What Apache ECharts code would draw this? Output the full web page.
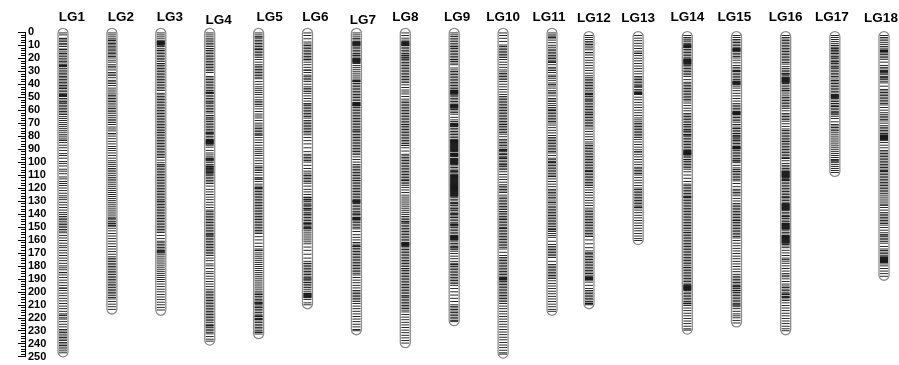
<!DOCTYPE html>
<html>
<head>
<meta charset="utf-8">
<script src="https://cdn.jsdelivr.net/npm/echarts@6/dist/echarts.min.js"></script>
<style>html,body{margin:0;padding:0;background:#fff}#chart{width:899px;height:365px}</style>
</head>
<body>
<div id="chart"></div>
<script>
const lgNames = ['LG1','LG2','LG3','LG4','LG5','LG6','LG7','LG8','LG9','LG10','LG11','LG12','LG13','LG14','LG15','LG16','LG17','LG18'];
const lgStart = [0,0,0,0,0,0,0,0,0,0,0,2.5,2.5,2.5,2.5,2.5,2.5,2.5];
const lgEnd = [247,214,215,238,233,210,230,240,223,248,215,210,160.5,229.5,224,230,108,188];
const yTicks = {min:0, max:250, step:10};

const m1 = [0.5,2,4.6,5,6,7.2,8.5,9.6,11,12.9,13.2,14.5,16,16.3,17.5,18.8,20,21.3,22.4,23.6,25,25.4,25.8,26.2,26.6,28,29.2,30.5,31.6,32.8,34,35.1,36.3,37.5,38.6,39.8,41,42.1,43,43.3,44.6,45.8,47,48,48.4,48.8,49.2,49.6,51,52.2,53.5,53.8,55,56.2,57.4,58.6,59.8,61,62.2,63.4,65,66.5,68,69.6,71,72.5,74,75.5,77,78.6,80,81.5,83,83.3,85,87,89,91,93.5,95,97,99.5,101,103,105.5,107,109,111.5,113,115,116.5,118,120,122,124,126,127.5,129,131,133,135,137,139,140.5,142,143.2,144.4,145.6,147,148.2,149.4,150.6,152,153.2,154.5,156.5,158.5,160.5,162.5,164.5,166,168,170,172,174,176,178,180,181.5,183,185,185.3,187,189,191,193,195,197,197.3,199,201,203,205,207,209,211,213,215,217,218,218.4,220,221,223,225,227,229,230.2,231.4,232.6,234,235.2,236.4,237.6,239,240.2,241.4,242.6,244,245.5,247];
const m2 = [0.5,2,3.5,5,6,6.3,7.5,8.6,9.7,10.8,12,13,14.2,15.3,16.4,17.5,18.6,19.8,21.5,23,25,26.2,27.4,29,31,32.2,33.4,35,37,38.2,39.4,41,43,44.5,46,47.5,48.6,49.8,51,52.2,53.4,54.6,56,57.5,58.7,60,61.2,62.4,64,65.5,67,68.2,69.5,71,73,74.5,76,78,78.3,80,82,84,86,88,89.5,91,93,95,97,99,100.5,102,103.5,105,106.2,107.5,109,110.5,112,113.2,114.5,116,117.5,119,120.5,122,123.5,125,126.5,128,129.5,131,132.5,134,135.5,137,138.5,140,141.5,143,143.3,144.5,145.7,147,147.4,148.5,149,149.4,151,153,155,157,159,161,163,165,167,169,171,173,174.2,175.4,176.6,178,179.2,180.4,181.6,183,184.2,185.4,186.6,188,189.2,190.4,191.6,193,194.2,195.4,196.6,198,199.2,200.4,201.6,203,204.3,205.5,207.5,209.5,211.5,213.5];
const m3 = [0.5,2,3.5,5,6.5,7,7.4,7.8,8.2,8.6,9,9.4,10,11,12.3,13.7,14,15.2,16.4,17.6,18.8,20,21.2,22.4,24,24.3,25.5,26.7,27.9,29.1,30.3,31.5,32.7,33.9,35.1,36.3,37.5,38.7,40,41.2,42.4,43.6,44.8,47,48.2,49.4,50.6,51.8,53,54.2,55.4,56.6,57.8,59,60.2,61.4,62.6,63.8,65,66.2,67.4,68.6,69.8,71,72.2,73.4,74.6,75.8,77,77.3,78.5,79.7,80.9,82.1,83.3,84.5,85.7,86.9,88.1,89.3,90.5,91.7,92.9,94.1,95.3,96.5,98.5,100.5,102,102.3,103.5,104.7,105.9,107.1,108.3,109.5,110.7,111.9,113.1,114.3,115.5,116.7,117.9,119.1,120.3,121.5,122.7,123.9,125.1,126.3,127.5,128.7,130,130.3,131.5,132.7,133.9,135.1,136.3,137.5,138.7,139.9,141.1,142.3,143.5,144.7,145.9,147.1,148.3,149.5,150.7,151.9,153.1,154.3,156.5,159,161,162.2,163.4,164.6,165.8,167,168,168.4,168.8,169.5,170,171,172.5,174,175.5,177,178.5,180,181.5,183,184.5,186,187.5,189,190.5,192,194,196,198,200,202,204,206,208,210,212,214];
const m4 = [0.5,2,3.5,5,6,7.3,8.5,9.7,11,12.4,12.7,14,15.2,16.4,17.6,18.8,20,21.2,22.4,23.6,24.8,26,27.2,28.4,29.6,31,34,35.2,36.4,37.6,38.8,40,41.2,42.4,43.6,44.8,46,46.4,46.8,47.2,48.5,49.7,51,52.2,53.5,53.8,55,56.2,57.4,58.6,59.8,61,62.2,64,64.3,65.5,66.7,67.5,68.7,70,71.2,72.4,73.6,74.8,76,77,77.4,77.8,78.2,79,80.2,81.4,82.6,83,83.4,83.8,84.2,84.6,85,85.4,85.8,86.2,87,88.5,91,93,94.5,96,97,97.4,97.8,98.2,98.6,99.2,100.5,102,103,103.4,103.8,104.4,105,105.6,106.2,106.8,107.4,108,108.6,109.4,110.5,111.7,112.9,114.1,115.3,116.5,118.5,121,123,125,127,129,131,133,135,137,138.2,139.4,140.6,141.8,143,144.2,145.4,146.6,147.8,149,150.2,151.4,152.6,153.8,155,156,156.4,157.5,158.7,159.9,161.1,162.3,163.5,164.7,165.9,167.1,168.3,169.5,170.7,172,174,176,178.5,180,182,184.5,186,188,190,192,194,196,198,199.5,200.7,201.9,203.1,204.3,205.5,206.7,207.9,209.1,210.3,211.5,212.7,213.9,215.1,216.3,217.5,218.7,219.9,221.1,222.3,223.5,225,226,226.4,227.6,228.8,230,231.2,232.4,234.5,236.5,238];
const m5 = [0.5,2,3.4,3.7,5,6.2,7.4,8.6,9.8,11,12.2,13,13.3,14.5,15.7,16.9,18.1,19.3,21,23,25,26.2,27.4,28.6,29.8,31,32.2,33.4,34.6,35.8,38,40,42,43.5,45,46.5,48,50,52,53.2,54.4,55.6,57,59,61,63,64.5,66,68,70,71.5,73,74.2,75.4,76.6,77.8,79,79.3,81,83,85,87,89,90.5,92,93.5,95,97,99,101,103,104.2,105.4,106.6,108,110,112,113,113.3,115,117,118.5,119.7,120,120.3,121.5,122.7,123.9,125.1,126.3,127.5,128.7,129.9,131.1,132.3,133.5,134.7,135.9,137.1,138.3,139.5,140.7,141.9,143.1,144.3,145.5,146.7,147.9,149.1,150.3,151.5,152.7,153.9,155.1,157.5,160,162.5,165,167,168,168.3,170,171.5,173,174.5,176,177.5,179,180.5,182,183.5,185,186.5,188,189.5,191,192.5,194,195.5,197,198.5,200,201,202,202.3,203.5,204.7,206,207,208,208.4,208.8,209.2,210,211,212,212.3,213.5,214.7,216,217.2,218.4,219,219.3,220.5,221,221.3,222.5,223.7,225,226.2,227.4,228.6,230,231,231.3,232.5];
const m6 = [0.5,2.5,5,7.5,9,10.2,11.4,12.6,13.8,15,16.2,17.4,18.6,19.8,21,21.3,23,25,27,29,29.3,31,33,34.2,35.4,36.6,38,40,42,43.2,44.4,45.6,47,49,51,53,55,55.3,56.5,57.7,58.9,60.1,61.3,62.5,63.7,64.9,66.1,68,69.2,70.4,71.6,72.8,74,75.2,76.4,77.6,79,81,83.5,86,89,92,94,95.2,96.4,97.6,98.8,100,102.5,105,107,108.5,110,110.3,111.5,112.7,113.9,115.1,116.3,118.5,121,123,125,127,127.3,128.5,129,129.3,130.5,131.7,133,133.3,134.5,135.7,136,136.3,137.5,138.7,140,140.3,141.5,142.7,143.9,145.1,146.3,147,147.4,147.8,148.5,149.5,150.5,151,151.4,152.5,154,155.5,157,158.5,160,161.5,163,165.5,168,171,174,176.5,178,178.3,179.5,180.7,181.9,183.1,184.3,185.5,186.7,187.9,189.1,190,190.3,191.5,192.7,193,194.2,195.4,196.6,198,199.5,201,201.4,201.8,202.2,202.6,203,203.4,203.8,204.2,204.6,206,208.5,210];
const m7 = [0.5,2,3.5,4.7,5.9,7.2,7.6,8,8.4,8.8,9.2,9.6,10,10.5,11.5,12.7,13.9,15.1,16.3,17.5,17.8,19,20,20.4,20.8,21.2,21.6,22,22.4,22.8,23.2,24,25.5,27,28.5,30,31.5,33,34.5,36,37,37.4,37.8,38.2,39.5,40.7,41.9,43.1,44.3,45.5,46.7,47.9,49.1,50.3,51.5,52.7,54,54.4,54.8,55.2,55.6,56,56.4,56.8,58,59.2,60.4,61.6,62.8,64,65.2,66.4,67.6,68.8,70,71.2,72.4,73.6,74.8,76,76.3,77.5,78.7,79.9,81.1,82.3,83.5,84.7,85.9,87.1,88.3,89.5,90.7,91.9,93.1,94.3,96,98,100,102,103.2,104.4,105.6,106.8,108,109.2,110.4,111.6,112.8,114,114.3,115.5,116.7,117.9,119.1,120.3,121.5,122.7,123.9,125.1,126.3,127.5,128.7,129.5,129.9,130.3,130.7,131.1,132,133.2,134.4,135.6,136.8,138,139.2,140,140.3,141.5,142.7,143,143.4,143.8,144.2,144.6,145.5,146.7,147.9,149.1,150.3,151.5,153.5,156,158,160,162,163.2,164.4,165,165.3,166.5,167.7,168.9,170.1,171.3,172.5,173.7,174.9,176.1,177.3,178.5,179.7,180.9,182.1,183.3,184.5,185.7,187,189,191,193,195,197,199,200.2,201.4,202.6,203.8,205,206.2,207.4,209,211,213,215,217,219,221,223,225,227,229,230];
const m8 = [0.5,2.5,4.5,6,7.2,7.6,8,8.4,8.8,9.2,9.6,10,10.3,11.5,12.7,13.9,15.1,16.3,17.5,17.8,19,19.3,20.5,20.8,22,23.2,24.4,25.6,26.8,28,29.2,30.4,31.6,32.8,34,35.2,36.4,37.6,38.8,40.5,42.5,44.5,46,47.5,49.5,51.5,53,54.2,55.4,56.6,57.8,59,60.2,61.4,62.6,63.8,65,66.2,67.4,68.6,69.8,71,71.3,72.5,73.7,74.9,76.1,77.3,78.5,79.7,80.9,82.1,83.3,84.5,85.7,87,87.3,89,91.5,94,95.2,96.4,97.6,98.8,100,101.2,102.4,103.6,104.8,106,107.2,108.4,109.6,110.8,112,113.2,114,114.3,115.5,116.7,117.9,119.5,121.5,123.5,125.5,127,128.5,130,131.5,133,134.5,136,137.5,139,140.5,142,143.2,144.4,145.6,146,146.3,147.5,148.7,149.9,151.1,152.3,153.5,154.7,155.9,157.1,158.3,159.5,160.7,162,162.4,162.8,163.2,163.6,164,164.4,165,166.2,167.4,168.6,169.8,171,172.2,173.4,174.6,175.8,177,178.2,179.4,180.6,182,182.3,183.5,184.7,185.9,187.1,188.3,189.5,190.7,191.9,193.1,194.3,195.5,196.7,197.9,199.1,200.3,201.5,203,203.3,204.5,205.7,206.9,208.1,209.3,210.5,211.7,212.9,214.1,215.5,217.5,219.5,221.5,223.5,225.5,227.5,229.5,231.5,233.5,235.5,237.5,239.5];
const m9 = [0.5,2,3.3,4.6,5.9,7.2,8.5,9.8,11,11.3,12.5,13.7,14.9,16.1,17.3,18.5,19.7,21,21.3,22.5,23.7,25,27.5,29,30.2,31.4,32.6,33.8,35,36.2,37.4,38.6,39.8,41,42.2,43.4,44.5,44.9,45.3,45.7,46.1,46.5,46.9,47.3,47.7,48.5,49.7,50.9,52.1,53.3,54.5,55.7,56.1,56.5,56.9,57.3,57.7,58.1,58.5,59.5,60.7,61.9,63.1,65.5,67.5,68.7,70,70.4,70.8,71.2,71.6,72,72.4,72.8,74,75.2,76.4,77.6,78.8,80,81.2,82.4,83,83.4,83.8,84.2,84.6,85,85.4,85.8,86.2,86.6,87,87.4,87.8,88.2,88.6,89,89.4,89.8,90.2,90.6,91,91.4,91.8,93,93.4,93.8,94.2,94.6,95,95.4,95.8,97,97.4,97.8,98.2,98.6,99,99.4,99.8,100.2,100.6,101,101.4,101.8,103,104.2,105.4,106.6,107.2,107.6,108.4,109.4,110,110.4,110.8,111.2,111.6,112,112.4,112.8,113.2,113.6,114,114.4,114.8,115.2,115.6,116,116.4,116.8,117.2,117.6,118,118.4,118.8,119.2,119.6,120,120.4,120.8,121.2,121.6,122,122.4,122.8,123.2,123.6,124,124.4,124.8,125.2,125.6,126,126.4,127.5,128.7,129.9,131.1,132,132.3,133.5,134.7,135.9,136.2,137.4,138.6,139.8,140,140.3,141.5,142.5,142.8,144,145.2,146.4,147.6,148,148.3,149,149.3,150.5,151.7,152.9,154.1,155.3,156.5,157,157.4,157.8,158.2,158.6,159,159.4,159.8,160.2,161.5,162.7,163.9,165.1,166,166.3,167.5,168.7,170.5,172.5,174.5,176.5,178,179,179.3,180.5,181.7,182.9,184.1,185.3,186.5,187.7,188.9,190.1,191.3,192.5,193.7,195,197.5,200,202.5,205,207.5,210,211.2,212.4,213.6,214.8,216,217.2,218.4,219.6,220.8,222,223];
const m10 = [0.5,2.5,4.6,7,9.8,11,12.2,13.4,14.6,15.8,17,18.2,19.4,21,23,25,27,29,30.5,31.7,32.9,34.1,35.3,36.5,38,40,42,44,46,48,49.5,50.7,51.9,53.1,54.3,55.5,56.7,57.9,59.1,60.3,61.5,62.7,63.9,65.1,66.3,67.5,68.7,69.9,71,71.3,72.5,73.7,74.9,76.1,77.3,78.5,80.5,82.5,83.7,84.9,86.1,87.3,88.5,90,90.4,90.8,91.2,92,93.2,94,94.3,95.5,96.7,97,97.3,98.5,99.7,100.9,102,102.3,103.5,104.7,105.9,107.5,109.5,111.5,113.5,115.5,117.5,118.7,119.9,121.1,122.3,123.5,125.5,127,128.2,129.4,130.6,131.8,133,134.2,135.4,136.6,138,138.3,139.5,140.7,141.9,143.1,144,144.3,145.5,146.7,147.9,149.1,150.3,151,151.3,152.5,153.7,154.9,156.1,157.3,158.5,159.7,160.9,162.1,163.3,164.5,165.7,167,169.5,172,173.5,174.7,175.9,177.1,178.3,179.5,180.7,181.9,183.1,184.3,185.5,186.7,187.9,189,189.4,189.8,190.2,190.6,191,192,193.2,194.4,195.6,196.8,198,199.2,200.4,201.6,202.8,204,205.2,206.4,207.6,209,211,213,215,217,219,221,223,225,227,229,231,233,235,237,239,241,243,245,247,248];
const m11 = [0.5,2,3,4.1,4.4,6,8,10,11.5,13,14.2,15.4,16.6,17.8,19,20,20.3,21.5,22.7,23,23.3,25,27,28.2,29.4,31,33,34.2,35.4,37,39,40.2,41.4,43,45,46.2,47.4,49,51,52.2,53.4,55,56.5,58,59.2,60,60.3,61.5,62.7,63.9,65.1,66.3,67.5,68.7,69.9,71.5,73.5,75.5,77.5,79.5,81,82.2,83.4,84.6,85.8,87,88.2,89.4,90.6,91.8,93,95,97,98.2,99.4,100,100.3,101.5,102.7,103.9,105.1,106.3,107.5,108.7,110,111,111.3,113,115,117,119,121,122.2,123.4,124.6,126,127.2,128.4,130,131.2,132.4,134,135.2,136.4,137.6,138.8,140,141.2,142.4,143.6,144.8,146,147.2,148.4,149.6,151,152,152.3,153.5,155,156.5,158,161,163.5,165,166.2,167.4,168.6,169.8,171,172.2,173.5,176.5,179,180.2,181.4,182.6,183.8,185,186.2,187.4,188.6,189.8,191.5,193.5,195.5,197.5,199.5,201.5,203.5,205.5,207.5,209.5,211.5,213.5,215];
const m12 = [2.5,4,5.5,7,8.2,9.4,10.6,12,13.5,15.5,15.8,17.5,19.5,21.5,23.5,25.5,27.5,29.5,31.5,33.5,35,36.2,37.4,38.6,39.8,41,42.2,43.4,44.6,46,47.2,48,48.3,49.5,50.7,52,52.3,53.5,54.7,55.9,57.1,58.3,59.5,60.7,61.9,63,63.3,64.5,65.7,66.9,68.1,69.3,70.5,71.7,72.9,74.5,76.5,78.5,80.5,82.5,84.5,86,87.2,88.4,89.6,90.8,92,93.2,94.4,95.6,96.8,98,99.2,100.4,101.6,102.8,104,105.2,106.4,107,107.3,108.5,109.7,110.9,112.1,113.3,114.5,115.7,116.9,118.1,119.5,121.5,123.5,125.5,127.5,129.5,131.5,133.5,135.5,137,138.2,139.4,140.6,141.8,143,144.2,145.4,146.6,147.8,149,150.2,151.4,152.6,153.8,155,156.2,157.4,160,163,166,168.5,170,170.3,171.5,172.7,173.9,175.1,176.3,177.5,178.7,179.9,181.1,182.3,183.5,184.7,185.9,187.1,188.3,189,189.4,189.8,190.2,190.6,191,192.5,195,197.5,199,200.2,201.4,202.6,203.8,205,206.2,207.4,208.6,209,209.3,210];
const m13 = [2.5,4.5,6.5,8.5,10.5,12.5,14.5,16,16.3,18,20,22,24,26,28,30,32,34,35.2,36.4,37.6,38.8,40,41.2,42,42.3,44,45.2,46,46.4,46.8,47.2,47.6,48,50,52,54,56,58,60,62,64,66,67.5,69,70.2,71.4,72.6,73.8,75,76.2,77.4,78.6,79.8,81,82.5,84.5,86.5,88.5,90.5,92,92.3,94,96,98,100,102,104,105.2,106.4,107.6,108.8,110,112,114,116,118,120,121.2,122.4,123.6,124.8,126,127.2,128.4,129.6,130.8,132,133.2,134.5,135,135.3,137,139,141,143,145,147,149,151,153,155,157,159,160.5];
const m14 = [2.5,4,5.2,6,7.3,8.5,9.5,10,10.4,10.8,11.2,11.6,12,13.2,14.4,15.6,16.8,18,19.2,20.4,21,21.4,21.8,22.2,22.6,23,23.4,23.8,24.2,24.6,25.5,26.7,27.9,29.1,30.3,31.5,32.7,34,36.5,38.5,39.7,40.9,42.1,43.3,44.5,45.7,46.9,48.1,49.3,50.5,51.7,52.9,54.5,56.5,58.5,60.5,62.5,63.7,64.9,66.1,67.3,68.5,69.7,71,71.3,72.5,73.7,74.9,76,76.3,77.5,78.7,79,79.3,80.5,81.7,82.9,84.1,85.3,86.5,87.7,88.9,90.1,91,91.4,91.8,92.2,92.6,93,93.4,93.8,94.2,94.6,95.5,96.7,98,98.3,99.5,100.7,101.9,103.1,104.3,105.5,107.5,110,112.5,115,117,118.2,119.4,120.6,121.8,123,124.2,125.4,126.6,127,127.3,128.5,129.7,130.9,132.1,133.3,134.5,135.7,136.9,138.1,139.3,140.5,141.7,142.9,144.1,145.3,146.5,147.7,148.9,150.1,151.3,152.5,154,154.3,155.5,156.7,157.9,159.1,160.3,161.5,162.7,163.9,165.1,166.3,167.5,168.7,169.9,171.1,172.3,173.5,174.7,175.9,177.1,178.3,179.5,181,181.3,182.5,183.7,184.9,186.1,187.3,188.5,189.7,190.9,192.1,193.3,194.5,195,195.4,195.8,196.2,196.6,197,197.4,197.8,198.2,199,200.2,201.4,202.6,203.8,205,206.2,207.4,208.6,209,209.3,210.5,212.5,214.5,216.5,218.5,220.5,222.5,224.5,226.5,228.5,229.5];
const m15 = [2.5,4,5.5,6.7,7.9,9.1,10.3,11.5,12.4,12.8,13.2,13.6,14,14.4,15,16.2,17.4,18.6,19.8,21.5,23.5,25.5,27,28.2,29.4,30,30.3,31.5,32.7,33.9,35.1,36.3,37.5,38,38.4,38.8,39.2,39.6,40,40.4,41.5,43,45,47,49,51,53,55,56.2,57.4,58.6,59.8,61,61.4,61.8,62.2,62.6,63,63.4,64.5,65.7,66.9,68.1,69.3,71,71.3,73,74,74.3,75.5,76.7,78,78.3,79.5,80.5,80.8,82,83,83.3,84.5,85.7,86.9,88,88.4,88.8,89.2,89.6,90,91.2,92.4,93.6,94.8,96,97.2,98.4,99,99.3,100.5,102.5,104.5,105.7,107,107.3,108.5,109.7,110.9,112.1,113.3,114.5,116.5,119,121,122.2,123.4,124.6,126,128,130,132,133.2,134.4,135.6,136.8,138,139.2,140.4,141.6,142.8,144,145,145.3,146.5,147.7,148.9,150.1,151.3,152.5,153.7,154.9,156.1,157.3,158.5,160.5,162.5,164.5,166.5,168.5,170.5,172.5,174.5,176.5,178.5,180.5,182.5,184.5,186.5,188,189.2,190.4,191.6,192.8,194,195.2,196,196.3,197.5,198.7,199,199.3,200.5,201.7,202.9,204.1,205.3,206.5,207.7,208.9,210,210.3,211.5,213,215,217,218.5,220,222,224];
const m16 = [2.5,4,5.2,6.4,7.6,8.8,10,11.2,12.4,13.6,14.8,16,17.2,18.4,19.6,20.8,22,23.2,24.5,26.5,28,29.2,30.4,31.6,32,32.3,33.5,34.5,35,35.4,35.8,36.2,36.6,37,37.4,37.8,38.2,38.6,39.5,40.7,42,43.2,44.5,44.8,46,47.5,49,50.2,51.4,52.6,53.8,55,56.2,57.4,58.6,60.5,62.5,63.7,64.9,66.1,67.3,68.5,70.5,72.5,74.5,75.7,76.9,78.1,79.3,80.5,81.7,82.9,84,84.3,85.5,86.7,87.9,89.1,90.3,91.5,92.7,93.9,95.1,96.3,97,97.3,99,101,102.5,103.7,104.9,106.1,107,107.4,107.8,108.2,108.6,109,109.4,109.8,110.2,110.6,111,111.4,111.8,112.5,113.5,114,114.3,115.5,116.7,117.9,119.1,120.3,121.5,122.7,123.9,125.1,126.3,127,127.4,128.5,129.7,130.9,132,132.4,132.8,133.2,133.6,134,134.4,134.8,135.2,135.6,136,136.4,136.8,137.5,138.7,139.9,141.1,142,142.3,143.5,144.7,145.9,147,147.4,147.8,148.2,148.6,149,149.4,149.8,150.2,150.6,151,151.4,151.8,153,154.2,155.4,156.6,157,157.4,157.8,158.2,158.6,159,159.4,159.8,160.2,160.6,161,161.4,161.8,162.2,162.6,163.5,164.7,166,168,170,172,174,175.2,176.4,178,180,182,184,186,187.2,188.4,190,192,194,195.5,196.7,197.9,199.1,200.3,201.5,202,202.3,203.5,204,204.3,205.5,206.7,208.5,210.5,212.5,214.5,216.5,218.5,220.5,222.5,224.5,226.5,228.5,230];
const m17 = [2.5,4,5.5,7,8.5,10,10.3,11.5,12.5,13.6,13.9,15,16,16.3,17.5,18.8,19.1,20.3,21.5,22.6,22.9,24,25.2,26.5,26.8,28,29.2,30.4,31.6,32.8,34,35.2,36.8,37.1,38.3,39.5,40.7,41.9,43.1,44.3,45.5,46.7,48,48.4,48.8,49.2,49.6,50,50.4,51,52.2,53.4,54.7,55,56.2,57,57.3,58.5,59.7,60.9,62,62.3,63.5,64.7,66.5,69,71,72.2,73.4,74.6,75.8,77,78.5,80,81.5,83,84.5,86,87.5,89,90.5,92,93.5,95,96.5,98,99,99.3,100.5,102,103.5,105,106.5,108];
const m18 = [2.5,4,5.2,6.5,8,9.5,11,12.2,13.5,14,14.4,14.8,15.2,16,17.2,18.4,19.6,20.8,23,25.5,27,28.2,29.4,30,30.4,30.8,31.5,32.7,34,35,35.3,36.5,37.7,39,41.5,44,45.2,46.4,47.6,48.8,50,51.2,52.4,53.6,54.8,56,58,60,62,63.5,64.7,65.9,67.1,68.3,70,72,73.2,74.4,75.6,76.8,78,79,79.4,79.8,80.2,80.6,81,81.4,81.8,82.2,82.6,83.5,85,87,89,91,92.2,93.4,94.6,95.8,97,98.2,99.4,100.6,101.8,103,104.2,105.4,106.6,107,107.3,108.5,109.7,110.9,112.1,113.3,114.5,115.7,116.9,118.1,119.3,120.5,121.7,122.9,124.1,125.5,127,128.5,130,131.5,133,133.3,135,137,139,140.2,141.4,142.6,143.8,145,146.2,147.4,148.6,150.5,152.5,154.5,156,156.3,157.5,158.7,159.9,161.1,162.5,165,167,168.2,169.4,170.6,171.8,173,173.4,173.8,174.2,174.6,175,175.4,175.8,176.2,176.6,177,177.4,178.5,180,182,184,186,188];
const markerPos = [m1,m2,m3,m4,m5,m6,m7,m8,m9,m10,m11,m12,m13,m14,m15,m16,m17,m18];

// layout only: horizontal / vertical nudges of the group titles (pixels)
const titleDx = [9,9,9,9,11,8,6.5,0,3,0,-3,5,0,0,-2,0,-3,-3];
const titleY = [17.5,17.5,17.5,20,17.5,17.5,20,17.5,17,17.2,17.2,18.5,18.5,17.5,17.5,17.5,17.5,18.5];

// LG1-LG11 sit in the first panel, LG12-LG18 in the second (narrower gap between them)
const SPLIT = 11;
const chromA = [], chromB = [], markA = [], markB = [];
lgNames.forEach((n, i) => {
  const item = [i + 1, lgStart[i], lgEnd[i], i];
  (i < SPLIT ? chromA : chromB).push(item);
  markerPos[i].forEach(p => (i < SPLIT ? markA : markB).push([i + 1, p]));
});

const chart = echarts.init(document.getElementById('chart'), null, {renderer: 'canvas'});
const FONT = '"Liberation Sans", Arial, sans-serif';

function chromRender(params, api) {
  const top = api.coord([api.value(0), api.value(1)]);
  const bot = api.coord([api.value(0), api.value(2)]);
  const cx = top[0];
  const k = api.value(3);
  return {
    type: 'group',
    children: [
      {type: 'rect', shape: {x: cx - 5, y: top[1] - 4, width: 10, height: bot[1] - top[1] + 8, r: 5},
       style: {fill: '#fff', stroke: '#8c8c8c', lineWidth: 1.3}},
      {type: 'text', x: cx + titleDx[k], y: titleY[k],
       style: {text: lgNames[k], fill: '#000', font: 'bold 13.5px ' + FONT, align: 'center', verticalAlign: 'middle'}}
    ]
  };
}
function markRender(params, api) {
  const p = api.coord([api.value(0), api.value(1)]);
  return {type: 'rect', shape: {x: p[0] - 4, y: p[1] - 0.45, width: 8, height: 0.9},
          style: {fill: '#111'}};
}
const yBase = {
  type: 'value', inverse: true, min: yTicks.min, max: yTicks.max, interval: yTicks.step,
  splitLine: {show: false}
};

chart.setOption({
  animation: false,
  backgroundColor: '#fff',
  grid: [
    {left: 25, width: 874, top: 32.3, height: 324.4},
    {left: 25, width: 874, top: 32.3, height: 324.4}
  ],
  xAxis: [
    {gridIndex: 0, type: 'value', min: 0.2229, max: 18.096, show: false},
    {gridIndex: 1, type: 'value', min: 0.530, max: 18.305, show: false}
  ],
  yAxis: [
    Object.assign({gridIndex: 0, position: 'left',
      axisLine: {show: true, lineStyle: {color: '#000', width: 1}},
      axisTick: {show: true, inside: false, length: 7, lineStyle: {color: '#000', width: 1}},
      minorTick: {show: true, splitNumber: 5, length: 4, lineStyle: {color: '#000', width: 1}},
      axisLabel: {inside: true, margin: 3, color: '#000', fontWeight: 'bold', fontSize: 11, fontFamily: FONT}
    }, yBase),
    Object.assign({gridIndex: 1, show: false}, yBase)
  ],
  series: [
    {type: 'custom', xAxisIndex: 0, yAxisIndex: 0, clip: false, data: chromA, renderItem: chromRender},
    {type: 'custom', xAxisIndex: 1, yAxisIndex: 1, clip: false, data: chromB, renderItem: chromRender},
    {type: 'custom', xAxisIndex: 0, yAxisIndex: 0, clip: false, data: markA, renderItem: markRender},
    {type: 'custom', xAxisIndex: 1, yAxisIndex: 1, clip: false, data: markB, renderItem: markRender}
  ]
});
</script>
</body>
</html>
